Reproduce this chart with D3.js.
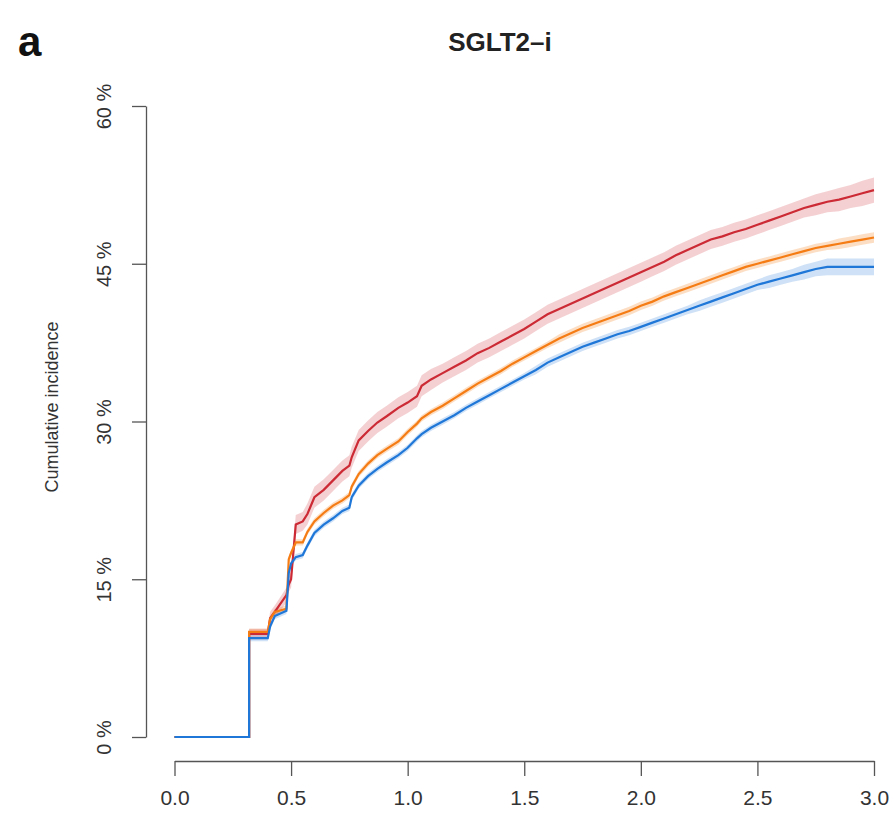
<!DOCTYPE html>
<html>
<head>
<meta charset="utf-8">
<script src="https://cdn.jsdelivr.net/npm/d3@7"></script>
<style>
  body { margin: 0; background: #fff; }
  text { font-family: "Liberation Sans", Arial, sans-serif; }
</style>
</head>
<body>
<svg id="chart" width="896" height="815"></svg>
<script>
// time in years, shared by all three curves (repeated value = vertical jump)
const timeYears = [0, 0.32, 0.32, 0.40, 0.41, 0.43, 0.48, 0.49, 0.50, 0.52, 0.55, 0.57, 0.60, 0.64, 0.68, 0.72, 0.75, 0.76, 0.79, 0.83, 0.87, 0.91, 0.96, 1.00, 1.04, 1.06, 1.10,
  1.15, 1.20, 1.25, 1.30, 1.35, 1.40, 1.45, 1.50, 1.55, 1.60, 1.65, 1.70, 1.75, 1.80, 1.85, 1.90, 1.95, 2.00,
  2.05, 2.10, 2.15, 2.20, 2.25, 2.30, 2.35, 2.40, 2.45, 2.50, 2.55, 2.60, 2.65, 2.70, 2.75, 2.80, 2.85, 2.90, 2.95, 3.00];

const redPct = [0, 0, 9.8, 9.8, 11.3, 11.9, 13.5, 14.5, 15.0, 20.2, 20.5, 21.2, 22.8, 23.5, 24.4, 25.3, 25.8, 26.6, 28.2, 29.1, 29.9, 30.5, 31.3, 31.8, 32.4, 33.4, 34.0,
  34.6, 35.2, 35.8, 36.5, 37.0, 37.6, 38.2, 38.8, 39.5, 40.2, 40.7, 41.2, 41.7, 42.2, 42.7, 43.2, 43.7, 44.2,
  44.7, 45.2, 45.8, 46.3, 46.8, 47.3, 47.6, 48.0, 48.3, 48.7, 49.1, 49.5, 49.9, 50.3, 50.6, 50.9, 51.1, 51.4, 51.7, 52.0];

const orangePct = [0, 0, 10.0, 10.0, 11.2, 11.9, 12.2, 16.9, 17.5, 18.5, 18.5, 19.5, 20.5, 21.3, 22.0, 22.5, 23.0, 23.8, 25.0, 26.0, 26.8, 27.4, 28.1, 29.0, 29.8, 30.3, 30.9,
  31.5, 32.2, 32.9, 33.6, 34.2, 34.8, 35.5, 36.1, 36.7, 37.3, 37.9, 38.4, 38.9, 39.3, 39.7, 40.1, 40.5, 41.0,
  41.4, 41.9, 42.3, 42.7, 43.1, 43.5, 43.9, 44.3, 44.7, 45.0, 45.3, 45.6, 45.9, 46.2, 46.5, 46.7, 46.9, 47.1, 47.3, 47.5];

const bluePct = [0, 0, 9.4, 9.4, 10.5, 11.5, 12.0, 15.6, 16.5, 17.1, 17.3, 18.2, 19.4, 20.2, 20.8, 21.5, 21.8, 22.8, 23.9, 24.8, 25.5, 26.1, 26.8, 27.5, 28.4, 28.8, 29.4,
  30.0, 30.6, 31.3, 31.9, 32.5, 33.1, 33.7, 34.3, 34.9, 35.6, 36.1, 36.6, 37.1, 37.5, 37.9, 38.3, 38.6, 39.0,
  39.4, 39.8, 40.2, 40.6, 41.0, 41.4, 41.8, 42.2, 42.6, 43.0, 43.3, 43.6, 43.9, 44.2, 44.5, 44.7, 44.7, 44.7, 44.7, 44.7];

// half width of the confidence band (percentage points)
const redCI = [0, 0, 0.5, 0.5, 0.6, 0.6, 0.7, 0.7, 0.8, 0.9, 0.9, 1.0, 1.0, 1.0, 1.0, 1.0, 1.0, 1.0, 1.0, 1.0, 1.0, 1.0, 1.0, 1.0, 1.0, 1.0, 1.0,
  0.9, 0.9, 0.9, 0.9, 0.9, 0.9, 0.9, 0.9, 0.9, 0.9, 0.9, 0.9, 0.9, 0.9, 0.9, 0.9, 0.9, 0.9,
  0.9, 0.9, 0.9, 0.9, 0.9, 0.9, 0.9, 0.9, 0.9, 0.9, 0.9, 0.9, 0.9, 0.9, 1.0, 1.0, 1.1, 1.1, 1.2, 1.2];
const orangeCI = [0, 0, 0.3, 0.3, 0.3, 0.3, 0.3, 0.3, 0.3, 0.3, 0.3, 0.3, 0.3, 0.3, 0.3, 0.3, 0.3, 0.3, 0.3, 0.3, 0.3, 0.3, 0.3, 0.3, 0.3, 0.3, 0.3,
  0.3, 0.3, 0.3, 0.3, 0.3, 0.3, 0.3, 0.3, 0.3, 0.3, 0.4, 0.4, 0.4, 0.4, 0.4, 0.4, 0.4, 0.4,
  0.4, 0.4, 0.4, 0.4, 0.4, 0.4, 0.4, 0.4, 0.4, 0.4, 0.4, 0.4, 0.4, 0.4, 0.4, 0.4, 0.5, 0.5, 0.5, 0.5];
const blueCI = [0, 0, 0.3, 0.3, 0.3, 0.3, 0.3, 0.3, 0.3, 0.3, 0.3, 0.3, 0.3, 0.3, 0.3, 0.3, 0.3, 0.3, 0.3, 0.3, 0.3, 0.3, 0.3, 0.3, 0.3, 0.3, 0.3,
  0.3, 0.3, 0.3, 0.3, 0.3, 0.3, 0.3, 0.3, 0.4, 0.4, 0.4, 0.4, 0.4, 0.4, 0.4, 0.4, 0.4, 0.4,
  0.4, 0.4, 0.4, 0.4, 0.5, 0.5, 0.5, 0.5, 0.5, 0.5, 0.6, 0.6, 0.6, 0.7, 0.7, 0.8, 0.8, 0.8, 0.8, 0.8];

const xTicks = [0, 0.5, 1, 1.5, 2, 2.5, 3];
const yTicks = [0, 15, 30, 45, 60];

const series = [
  { name: "blue", values: bluePct, ci: blueCI, color: "#1f77d8", band: "rgba(31,119,216,0.22)" },
  { name: "orange", values: orangePct, ci: orangeCI, color: "#f57c14", band: "rgba(245,124,20,0.25)" },
  { name: "red", values: redPct, ci: redCI, color: "#cc2a34", band: "rgba(204,42,52,0.22)" }
];

const svg = d3.select("#chart");

const x = d3.scaleLinear().domain([0, 3]).range([174.5, 874]);
const y = d3.scaleLinear().domain([0, 60]).range([737, 106]);

// bands first, then lines
let area = d3.area()
  .x(d => x(d.t))
  .y0(d => y(Math.max(0, d.v - d.c)))
  .y1(d => y(d.v + d.c));
let line = d3.line().x(d => x(d.t)).y(d => y(d.v));

series.forEach(s => {
  s.points = timeYears.map((t, i) => ({ t: t, v: s.values[i], c: s.ci[i] }));
});

svg.selectAll("path.band")
  .data(series)
  .enter().append("path")
  .attr("class", "band")
  .attr("d", d => area(d.points))
  .attr("fill", d => d.band);

// draw red first so blue sits on top like the original
svg.selectAll("path.curve")
  .data(series.slice().reverse())
  .enter().append("path")
  .attr("class", "curve")
  .attr("d", d => line(d.points))
  .attr("fill", "none")
  .attr("stroke", d => d.color)
  .attr("stroke-width", 2.2)
  .attr("stroke-linejoin", "miter");

// y axis (R style, ticks outward, rotated labels)
const yAxis = svg.append("g")
  .attr("transform", "translate(146,0)")
  .call(d3.axisLeft(y).tickValues(yTicks).tickSize(14).tickSizeOuter(0).tickFormat(d => d + " %"));
yAxis.select(".domain").attr("stroke", "#555").attr("stroke-width", 1.3);
yAxis.selectAll(".tick line").attr("stroke", "#555").attr("stroke-width", 1.3);
yAxis.selectAll(".tick text")
  .attr("font-size", 20)
  .attr("fill", "#333")
  .attr("x", 0).attr("dy", 0)
  .attr("text-anchor", "middle")
  .attr("transform", "translate(-35,0) rotate(-90)");

// x axis
const xAxis = svg.append("g")
  .attr("transform", "translate(0,761)")
  .call(d3.axisBottom(x).tickValues(xTicks).tickSize(15).tickSizeOuter(0).tickFormat(d3.format(".1f")));
xAxis.select(".domain").attr("stroke", "#555").attr("stroke-width", 1.3);
xAxis.selectAll(".tick text")
  .attr("font-size", 21)
  .attr("fill", "#333")
  .attr("y", 37).attr("dy", "0.35em");
xAxis.selectAll(".tick line").attr("stroke", "#555").attr("stroke-width", 1.3);

// axis title
svg.append("text")
  .attr("transform", "translate(52,407) rotate(-90)")
  .attr("text-anchor", "middle")
  .attr("dy", "0.35em")
  .attr("font-size", 18)
  .attr("fill", "#333")
  .text("Cumulative incidence");

// plot title and panel letter
svg.append("text")
  .attr("x", 500).attr("y", 51)
  .attr("text-anchor", "middle")
  .attr("font-size", 26)
  .attr("font-weight", "bold")
  .attr("fill", "#222")
  .text("SGLT2\u2013i");

svg.append("text")
  .attr("x", 18).attr("y", 56)
  .attr("font-size", 42)
  .attr("font-weight", "bold")
  .attr("fill", "#111")
  .text("a");
</script>
</body>
</html>
